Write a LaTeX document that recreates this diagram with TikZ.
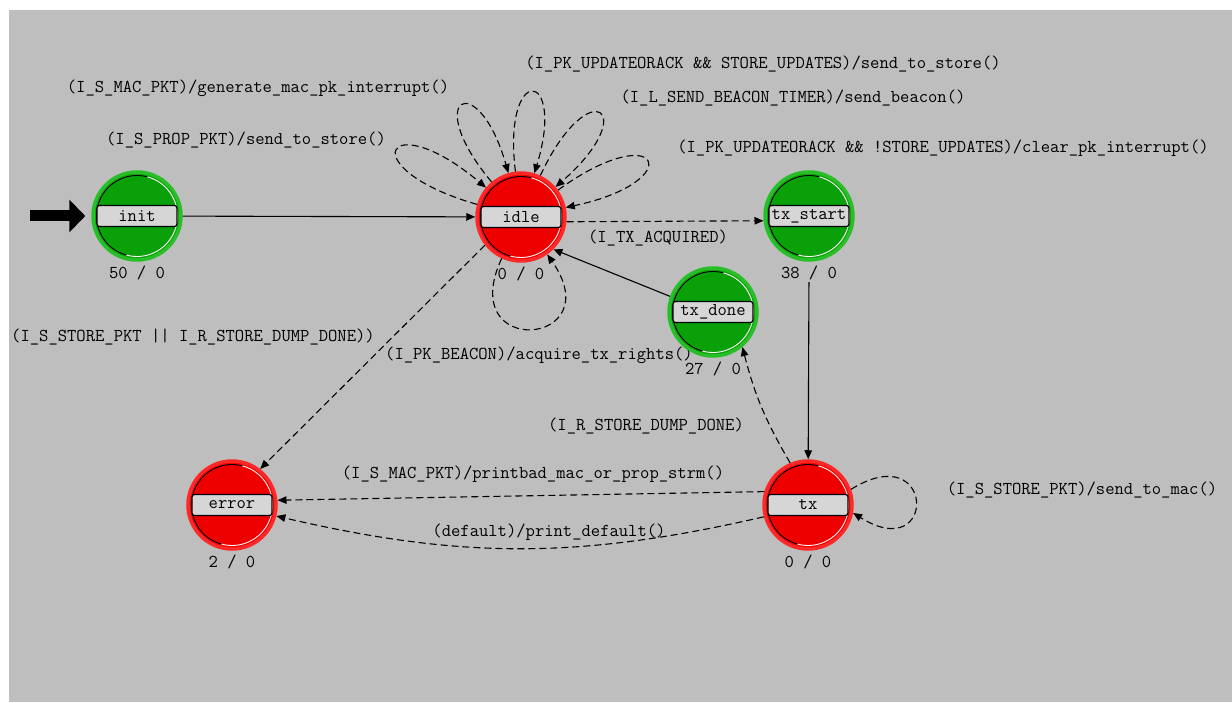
\documentclass[tikz,border=0pt]{standalone}
\usepackage{fontspec}
\usetikzlibrary{arrows.meta,positioning}

\definecolor{bggray}{RGB}{190,190,190}
\definecolor{boxgray}{RGB}{214,214,214}
\definecolor{fillgreen}{RGB}{10,160,10}
\definecolor{ringgreen}{RGB}{40,190,40}
\definecolor{fillred}{RGB}{238,0,0}
\definecolor{ringred}{RGB}{255,40,40}

\newcommand\opnetfont{\ttfamily\fontsize{18.1}{20}\selectfont}

\tikzset{
  state/.style={circle, minimum size=88pt, inner sep=0pt, line width=3.5pt,
    path picture={
      \draw[black, line width=0.9pt] (path picture bounding box.center) ++(75:40.5pt)
        arc[start angle=75, end angle=255, radius=40.5pt];
      \draw[white!80!pink, line width=0.9pt] (path picture bounding box.center) ++(255:40.5pt)
        arc[start angle=255, end angle=435, radius=40.5pt];
    }},
  gstate/.style={state, fill=fillgreen, draw=ringgreen},
  rstate/.style={state, fill=fillred, draw=ringred},
  namebox/.style={draw, line width=1.2pt, rounded corners=2.5pt, fill=boxgray,
    minimum width=80pt, minimum height=21pt, inner sep=2pt, font=\opnetfont},
  count/.style={inner sep=2pt, font=\opnetfont},
  lbl/.style={inner sep=1pt, font=\opnetfont},
  strans/.style={line width=1.1pt, -{Triangle[length=9pt,width=7.5pt]}},
  dtrans/.style={strans, dash pattern=on 7pt off 4pt}
}

\begin{document}
\begin{tikzpicture}[x=1pt, y=1pt]
  \fill[white] (0,0) rectangle (1232,702);
  \fill[bggray] (9,0) rectangle (1232,692);

  % label that sits behind tx_done
  \node[lbl] (lbeacon) at (539,347) {(I\_PK\_BEACON)/acquire\_tx\_rights()};

  % states
  \node[gstate] (init) at (137,486) {};
  \node[rstate] (idle) at (521,485) {};
  \node[gstate] (txstart) at (809,486) {};
  \node[gstate] (txdone) at (713,390) {};
  \node[rstate] (error) at (232,197) {};
  \node[rstate] (tx) at (808,197) {};

  \node[namebox] (initbox) at (init) {init};
  \node[namebox] (idlebox) at (idle) {idle};
  \node[namebox] (txstartbox) at (txstart) {tx\_start};
  \node[namebox] (txdonebox) at (txdone) {tx\_done};
  \node[namebox] (errorbox) at (error) {error};
  \node[namebox] (txbox) at (tx) {tx};

  \node[count, below=2pt of init] (initcnt) {50 / 0};
  \node[count, below=2pt of idle] (idlecnt) {0 / 0};
  \node[count, below=2pt of txstart] (txstartcnt) {38 / 0};
  \node[count, below=2pt of txdone] (txdonecnt) {27 / 0};
  \node[count, below=2pt of error] (errorcnt) {2 / 0};
  \node[count, below=2pt of tx] (txcnt) {0 / 0};

  % entry arrow
  \coordinate (entry) at (30,486);
  \draw[line width=11pt, -{Triangle[length=16pt,width=32pt]}, shorten >=6pt] (entry) -- (init);

  % transitions
  \draw[strans] (init) -- (idle);
  \draw[dtrans] (idle.-6) -- (txstart.186);
  \draw[strans] (txstartcnt) -- (tx);
  \draw[strans] (txdone.160) -- (idle.-45);
  \draw[dtrans] (tx.113) to[bend left=8] (txdone.-50);
  \draw[dtrans] (idle.218) -- (error.52);
  \draw[dtrans] (tx.163) -- (error.6);
  \draw[dtrans] (tx.195) to[bend left=13] (error.-14);
  \draw[dtrans] (tx.20) to[out=32, in=-32, min distance=100pt] (tx.-10);
  \foreach \o/\i/\d in {164/140/131, 130/106/111, 97/73/110, 65/41/116, 36/12/127, -115/-55/112}
    \draw[dtrans] (idle) to[out=\o, in=\i, min distance=\d pt] (idle);

  % transition labels
  \node[lbl] (lmacpk) at (258,614) {(I\_S\_MAC\_PKT)/generate\_mac\_pk\_interrupt()};
  \node[lbl] (lproppk) at (246,562) {(I\_S\_PROP\_PKT)/send\_to\_store()};
  \node[lbl] (lupdstore) at (763,638) {(I\_PK\_UPDATEORACK \&\& STORE\_UPDATES)/send\_to\_store()};
  \node[lbl] (lbeacontimer) at (793,604) {(I\_L\_SEND\_BEACON\_TIMER)/send\_beacon()};
  \node[lbl] (lupdclear) at (943,554) {(I\_PK\_UPDATEORACK \&\& !STORE\_UPDATES)/clear\_pk\_interrupt()};
  \node[lbl] (ltxacq) at (658,464) {(I\_TX\_ACQUIRED)};
  \node[lbl] (lstoreerr) at (193,365) {(I\_S\_STORE\_PKT || I\_R\_STORE\_DUMP\_DONE))};
  \node[lbl] (ldumpdone) at (646,276) {(I\_R\_STORE\_DUMP\_DONE)};
  \node[lbl] (lbadstrm) at (533,228) {(I\_S\_MAC\_PKT)/printbad\_mac\_or\_prop\_strm()};
  \node[lbl] (ldefault) at (549,170) {(default)/print\_default()};
  \node[lbl] (ltomac) at (1082,212) {(I\_S\_STORE\_PKT)/send\_to\_mac()};
\end{tikzpicture}
\end{document}
